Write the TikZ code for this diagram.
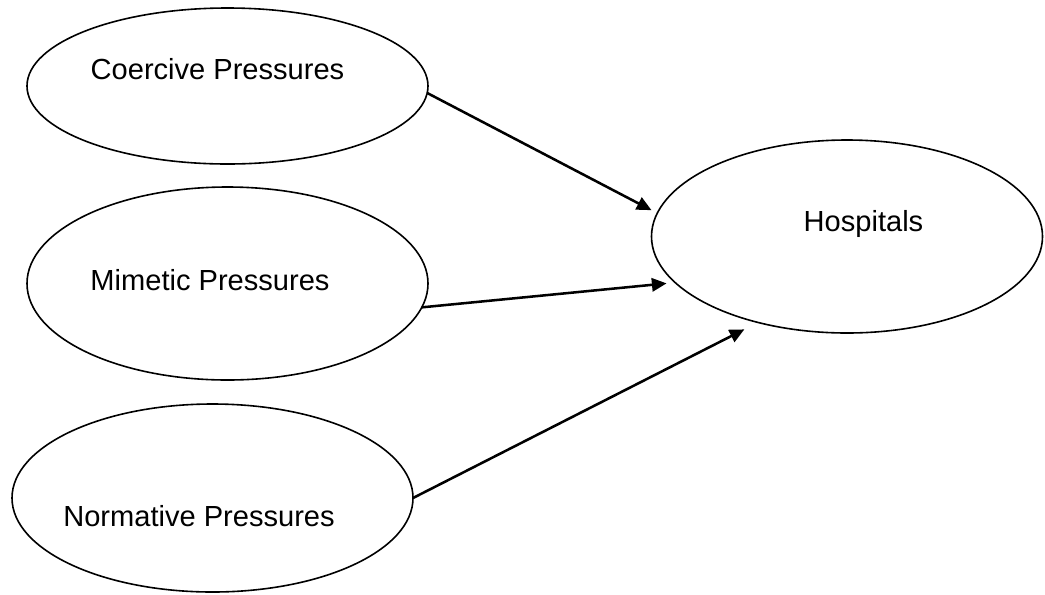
\documentclass[tikz,border=0pt]{standalone}
\usepackage{fontspec}
\setmainfont{Liberation Sans}
\usetikzlibrary{shapes.geometric,arrows.meta}
\begin{document}
\begin{tikzpicture}[x=0.75pt, y=-0.75pt,
    oval/.style={ellipse, draw, line width=1.2pt, inner sep=0pt, outer sep=0pt, minimum width=#1},
    lbl/.style={anchor=base, inner sep=0pt, font=\fontsize{21.8pt}{26pt}\selectfont},
    link/.style={-{Triangle[length=11pt, width=10pt]}, line width=1.9pt}]
\useasboundingbox (0,0) rectangle (1045,594);
\node[oval=300.75pt, minimum height=117pt]   (coe)  at (227.5,86)    {};
\node[oval=300.75pt, minimum height=144.75pt] (mim) at (227.5,283.5) {};
\node[oval=300.75pt, minimum height=141pt]   (norm) at (212.5,498)   {};
\node[oval=293.25pt, minimum height=144.75pt] (hosp) at (847,236.5)  {};
\node[lbl] (coetxt)  at (217.5,79)  {Coercive Pressures};
\node[lbl] (mimtxt)  at (210,290)   {Mimetic Pressures};
\node[lbl] (normtxt) at (199,526)   {Normative Pressures};
\node[lbl] (hosptxt) at (863.5,231) {Hospitals};
\draw[link, shorten >=4.9pt]  (coe.-2)   -- (hosp.173);
\draw[link, shorten >=6.5pt]  (mim.-7)   -- (hosp.195);
\draw[link, shorten >=11.5pt] (norm.east) -- (hosp.224);
\end{tikzpicture}
\end{document}
